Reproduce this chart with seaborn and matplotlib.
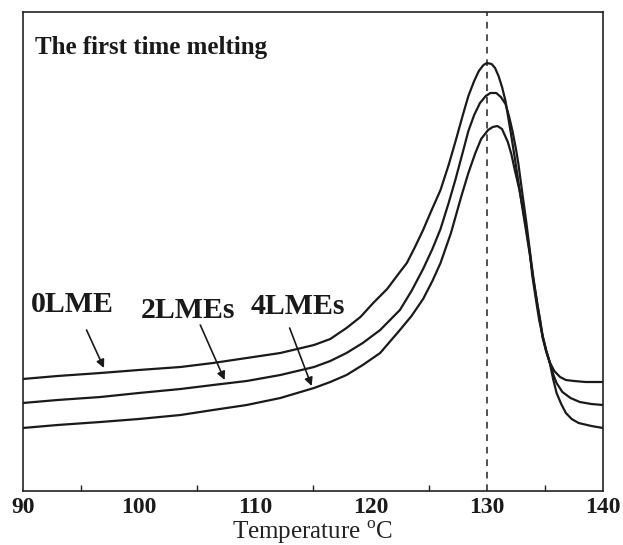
import numpy as np
import pandas as pd
import matplotlib
matplotlib.use("Agg")
import matplotlib.pyplot as plt
import seaborn as sns

# ---- data (arbitrary heat-flow units) ----
t_0lme = [90.0, 93.0, 96.7, 100.0, 103.6, 106.4, 109.3, 112.2, 115.1, 116.5, 117.9, 119.1,
          120.2, 121.4, 122.5, 123.1, 123.8, 124.5, 125.2, 126.0, 126.7, 127.3, 127.9, 128.4,
          128.9, 129.3, 129.7, 130.0, 130.4, 130.7, 131.0, 131.3, 131.6, 131.8, 132.1, 132.4,
          132.7, 133.0, 133.4, 133.7, 134.0, 134.3, 134.6, 134.8, 135.1, 135.4, 135.8, 136.3,
          136.8, 137.5, 138.5, 140.0]
y_0lme = [112, 115, 118, 121, 124, 128, 133, 138, 146, 152, 163, 174,
          188, 202, 219, 228, 244, 261, 280, 301, 326, 350, 375, 395,
          410, 420, 426, 428, 427, 423, 415, 404, 390, 376, 355, 333,
          310, 287, 258, 236, 212, 190, 170, 155, 140, 129, 120, 114,
          111, 110, 109, 109]

t_2lmes = [90.0, 93.0, 96.7, 100.0, 103.6, 106.4, 109.3, 112.2, 115.1, 116.5, 117.9, 119.3,
           120.8, 122.5, 123.5, 124.5, 125.3, 126.0, 126.7, 127.3, 127.9, 128.4, 128.9, 129.4,
           129.9, 130.3, 130.8, 131.2, 131.6, 131.9, 132.2, 132.5, 132.7, 133.0, 133.4, 133.7,
           134.0, 134.3, 134.6, 134.8, 135.1, 135.4, 135.7, 136.0, 136.5, 137.2, 138.0, 139.0,
           140.0]
y_2lmes = [88, 91, 94, 98, 102, 106, 110, 116, 124, 130, 138, 148,
           161, 181, 200, 222, 242, 262, 288, 312, 338, 360, 376, 388,
           395, 398, 398, 394, 387, 375, 360, 342, 328, 302, 268, 240,
           213, 190, 168, 153, 140, 129, 117, 108, 99, 93, 89, 87,
           86]

t_4lmes = [90.0, 93.0, 96.7, 100.0, 103.6, 106.4, 109.3, 112.2, 115.1, 116.5, 117.9, 119.3,
           120.8, 122.5, 123.5, 124.5, 125.3, 126.0, 126.9, 127.8, 128.4, 129.0, 129.5, 130.1,
           130.5, 130.9, 131.3, 131.8, 132.1, 132.4, 132.8, 133.1, 133.4, 133.7, 133.9, 134.2,
           134.5, 134.8, 135.1, 135.4, 135.7, 136.0, 136.4, 136.8, 137.3, 137.9, 139.0, 140.0]
y_4lmes = [63, 66, 69, 72, 76, 81, 86, 93, 103, 109, 116, 126,
           138, 161, 175, 192, 210, 228, 258, 295, 318, 338, 352, 361,
           364, 365, 362, 349, 337, 321, 301, 282, 261, 238, 216, 193,
           171, 155, 141, 129, 112, 98, 87, 78, 72, 68, 65, 63]

labels = ["0LME", "2LMEs", "4LMEs"]
label_xy = [(94.3, 186), (104.2, 181), (113.7, 185)]
arrow_tail = [(95.5, 161), (105.3, 166), (113.0, 163)]
arrow_head = [(97.0, 123), (107.4, 111), (114.9, 105)]
x_ticks = [90, 100, 110, 120, 130, 140]
peak_ref = 130

df = pd.concat([
    pd.DataFrame({"T": t_0lme, "HF": y_0lme, "sample": "0LME"}),
    pd.DataFrame({"T": t_2lmes, "HF": y_2lmes, "sample": "2LMEs"}),
    pd.DataFrame({"T": t_4lmes, "HF": y_4lmes, "sample": "4LMEs"}),
])

sns.set_style("white")
plt.rcParams["font.family"] = ["Liberation Serif", "DejaVu Serif"]
plt.rcParams["mathtext.fontset"] = "custom"
plt.rcParams["mathtext.rm"] = "Liberation Serif"

fig = plt.figure(figsize=(6.23, 5.45), dpi=100)
ax = fig.add_axes([22.7 / 623, 1 - 491 / 545, 580.3 / 623, 479 / 545])

sns.lineplot(data=df, x="T", y="HF", hue="sample", estimator=None, sort=True,
             palette=["#1a1a1a"] * 3, linewidth=1.6, legend=False, ax=ax)

ax.axvline(peak_ref, color="#333333", lw=1.2, ls=(0, (4, 3.5)), zorder=1)

ax.set_xlim(90, 140)
ax.set_ylim(0, 479)
ax.set_yticks([])
ax.set_xticks(x_ticks)
ax.set_xticks([95, 105, 115, 125, 135], minor=True)
ax.tick_params(axis="x", which="major", direction="in", length=7, width=1.0,
               pad=4.5, labelsize=17, color="#222222", labelcolor="#1a1a1a")
ax.tick_params(axis="x", which="minor", direction="in", length=4, width=1.0,
               color="#222222", bottom=True)
for lab in ax.get_xticklabels():
    lab.set_fontweight("bold")
for s in ax.spines.values():
    s.set_visible(True)
    s.set_linewidth(1.2)
    s.set_color("#222222")

ax.set_xlabel("Temperature $^{\\mathrm{o}}$C", fontsize=18, color="#222222")
ax.set_ylabel("")
ax.xaxis.set_label_coords(0.5, -0.087)
ax.xaxis.label.set_va("center")

ax.text(0.021, 0.912, "The first time melting", transform=ax.transAxes,
        fontsize=18, fontweight="bold", va="baseline", ha="left", color="#1a1a1a")

for lab, (lx, ly), tail, head in zip(labels, label_xy, arrow_tail, arrow_head):
    ax.text(lx, ly, lab, fontsize=21.5, fontweight="bold", ha="center", va="center",
            color="#1a1a1a")
    ax.annotate("", xy=head, xytext=tail,
                arrowprops=dict(arrowstyle="-|>", color="#1a1a1a", lw=1.2,
                                mutation_scale=12, shrinkA=0, shrinkB=0))

fig.savefig("out.png", dpi=100)
